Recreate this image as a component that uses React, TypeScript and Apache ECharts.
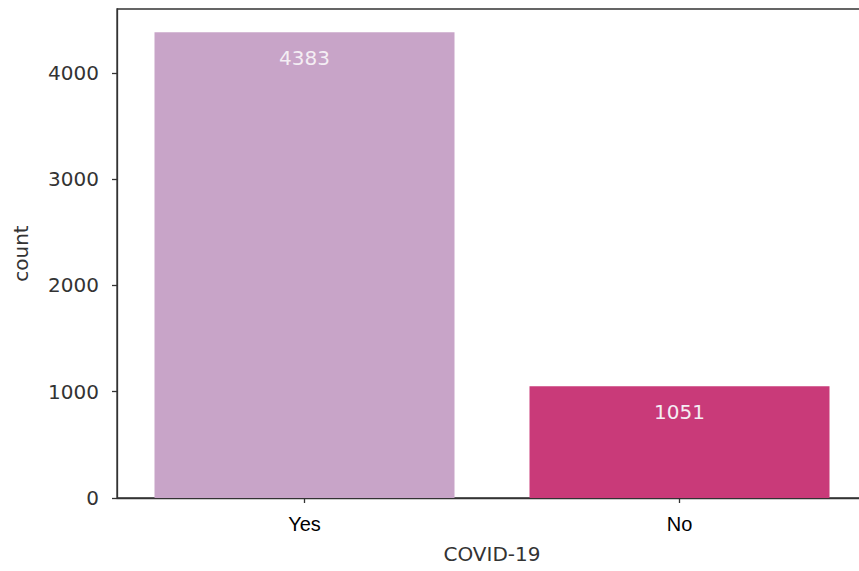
import React, { useEffect, useRef } from "react";
import * as echarts from "echarts";

const categories = ["Yes", "No"];
const counts = [4383, 1051];
const barColors = ["#c8a4c8", "#c93a79"];
const yTicks = [0, 1000, 2000, 3000, 4000];

export default function App() {
  const ref = useRef<HTMLDivElement>(null);
  useEffect(() => {
    if (!ref.current) return;
    const chart = echarts.init(ref.current, null, { renderer: "svg" });
    chart.setOption({
      animation: false,
      grid: {
        left: 117,
        top: 9,
        right: 1,
        bottom: 73,
        show: true,
        borderColor: "#333",
        borderWidth: 1.3,
        backgroundColor: "transparent",
      },
      xAxis: {
        type: "category",
        data: categories,
        name: "COVID-19",
        nameLocation: "middle",
        nameGap: 46,
        nameTextStyle: { fontFamily: "DejaVu Sans", fontSize: 20, color: "#333" },
        axisLine: { show: true, lineStyle: { color: "#333", width: 1.3 } },
        axisTick: { show: true, alignWithLabel: true, length: 5, lineStyle: { color: "#333", width: 1.3 } },
        axisLabel: { fontFamily: "Liberation Sans", fontSize: 20, color: "#000", margin: 16 },
      },
      yAxis: {
        type: "value",
        min: 0,
        max: 4602,
        interval: 1000,
        name: "count",
        nameLocation: "middle",
        nameGap: 86,
        nameRotate: 90,
        nameTextStyle: { fontFamily: "DejaVu Sans", fontSize: 20, color: "#333" },
        axisLine: { show: true, lineStyle: { color: "#333", width: 1.3 } },
        axisTick: { show: true, length: 5, lineStyle: { color: "#333", width: 1.3 } },
        axisLabel: {
          fontFamily: "DejaVu Sans",
          fontSize: 20,
          color: "#333",
          margin: 18,
          showMaxLabel: false,
          formatter: (v: number) => (yTicks.includes(v) ? String(v) : ""),
        },
        splitLine: { show: false },
      },
      series: [
        {
          type: "bar",
          barWidth: "80%",
          data: counts.map((v, i) => ({ value: v, itemStyle: { color: barColors[i] } })),
          label: {
            show: true,
            position: "insideTop",
            distance: 16,
            color: "#f4eef4",
            fontFamily: "DejaVu Sans",
            fontSize: 20,
          },
        },
      ],
    });
    return () => chart.dispose();
  }, []);
  return (
    <div
      style={{
        position: "fixed",
        left: 0,
        top: 0,
        width: 859,
        height: 571,
        overflow: "hidden",
        background: "#fff",
      }}
    >
      <div ref={ref} style={{ width: 868, height: 571 }} />
    </div>
  );
}
